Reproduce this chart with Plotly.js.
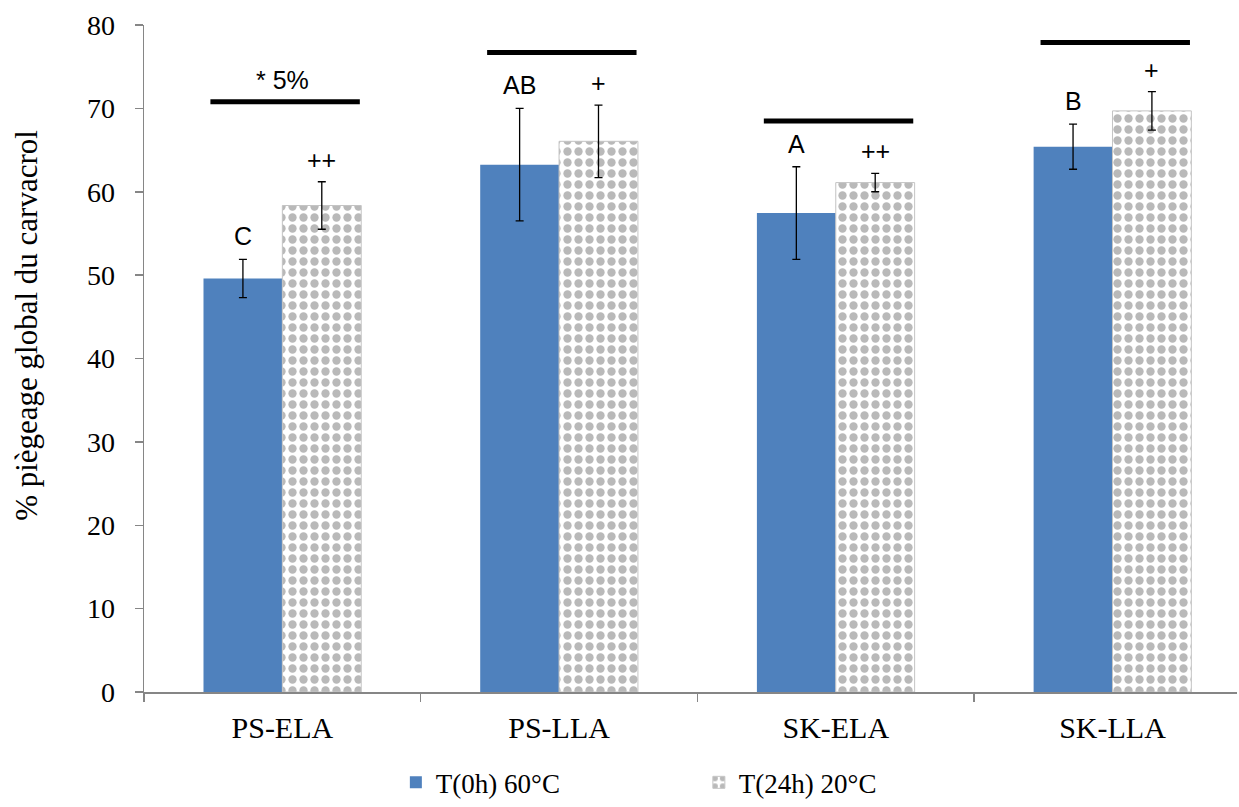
<!DOCTYPE html>
<html>
<head>
<meta charset="utf-8">
<script src="https://cdn.plot.ly/plotly-3.0.1.min.js"></script>
<style>html,body{margin:0;padding:0;background:#fff;}#chart{width:1239px;height:807px;}</style>
</head>
<body>
<div id="chart"></div>
<script>
// ---- data ----
const categories = ['PS-ELA', 'PS-LLA', 'SK-ELA', 'SK-LLA'];
const seriesNames = ['T(0h) 60°C', 'T(24h) 20°C'];
const t0Values = [49.6, 63.25, 57.45, 65.4];
const t0Errors = [2.3, 6.75, 5.55, 2.7];
const t24Values = [58.35, 66.05, 61.1, 69.7];
const t24Errors = [2.85, 4.35, 1.1, 2.3];
const t0Letters = ['C', 'AB', 'A', 'B'];
const t24Marks = ['++', '+', '++', '+'];
const bracketLevels = [70.8, 76.7, 68.5, 77.9];
const bracketNotes = ['* 5%', '', '', ''];
const yTickValues = [0, 10, 20, 30, 40, 50, 60, 70, 80];
const yTitle = '% piègeage global du carvacrol';

// ---- styling ----
const serif = '"Liberation Serif", "Times New Roman", serif';
const sans = '"Liberation Sans", Arial, sans-serif';
const bargap = 0.43;
const off = (1 - bargap) / 4;

const traceT0 = {
  type: 'bar', name: seriesNames[0], x: categories, y: t0Values,
  marker: {color: '#4f81bd', line: {width: 0}},
  error_y: {type: 'data', array: t0Errors, visible: true, color: '#000', thickness: 1.3, width: 4}
};
const traceT24 = {
  type: 'bar', name: seriesNames[1], x: categories, y: t24Values,
  marker: {
    color: '#ffffff',
    line: {color: '#c4c4c4', width: 1},
    pattern: {shape: '.', size: 11, solidity: 0.45, fgcolor: '#b9b9b9', bgcolor: '#ffffff', fillmode: 'replace'}
  },
  error_y: {type: 'data', array: t24Errors, visible: true, color: '#000', thickness: 1.3, width: 4}
};

const annotations = [];
const shapes = [];
categories.forEach((c, i) => {
  annotations.push({
    x: i - off, y: t0Values[i] + t0Errors[i], xref: 'x', yref: 'y',
    text: t0Letters[i], showarrow: false, yanchor: 'middle', yshift: 23,
    font: {family: sans, size: 25, color: '#000'}
  });
  annotations.push({
    x: i + off, y: t24Values[i] + t24Errors[i], xref: 'x', yref: 'y',
    text: t24Marks[i], showarrow: false, yanchor: 'middle', yshift: 22,
    font: {family: sans, size: 25, color: '#000'}
  });
  shapes.push({
    type: 'line', xref: 'x', yref: 'y',
    x0: i - 0.26, x1: i + 0.28, y0: bracketLevels[i], y1: bracketLevels[i],
    line: {color: '#000', width: 5}
  });
  if (bracketNotes[i]) {
    annotations.push({
      x: i, y: bracketLevels[i], xref: 'x', yref: 'y',
      text: bracketNotes[i], showarrow: false, yanchor: 'middle', yshift: 22,
      font: {family: sans, size: 25, color: '#000'}
    });
  }
});
annotations.push({
  x: -0.107, y: 0.549, xref: 'paper', yref: 'paper',
  text: yTitle, textangle: -90, showarrow: false, xanchor: 'center', yanchor: 'middle',
  font: {family: serif, size: 31, color: '#000'}
});

const layout = {
  width: 1239, height: 807,
  margin: {l: 144, r: 2, t: 25, b: 115},
  paper_bgcolor: '#fff', plot_bgcolor: '#fff',
  barmode: 'group', bargap: bargap, bargroupgap: 0,
  showlegend: true,
  legend: {
    orientation: 'h', xref: 'container', yref: 'container',
    x: 0.3195, y: 0.03, xanchor: 'left', yanchor: 'middle',
    entrywidth: 258, entrywidthmode: 'pixels',
    font: {family: serif, size: 27, color: '#000'},
    traceorder: 'normal'
  },
  xaxis: {
    type: 'category', range: [-0.5, 3.45],
    showline: true, linecolor: '#868686', linewidth: 1.5,
    ticks: 'outside', tickson: 'boundaries', ticklen: 8, tickcolor: '#868686', tickwidth: 1.5,
    ticklabelstandoff: 8,
    tickfont: {family: serif, size: 30, color: '#000'},
    showgrid: false, zeroline: false, fixedrange: true
  },
  yaxis: {
    range: [0, 80], tickvals: yTickValues, ticktext: yTickValues.map(String),
    showline: true, linecolor: '#868686', linewidth: 1.5,
    ticks: 'outside', ticklen: 8, tickcolor: '#868686', tickwidth: 1.5,
    ticklabelstandoff: 14,
    tickfont: {family: serif, size: 28, color: '#000'},
    showgrid: false, zeroline: false, fixedrange: true
  },
  annotations: annotations,
  shapes: shapes
};

Plotly.newPlot('chart', [traceT0, traceT24], layout, {displayModeBar: false, staticPlot: true});
</script>
</body>
</html>
